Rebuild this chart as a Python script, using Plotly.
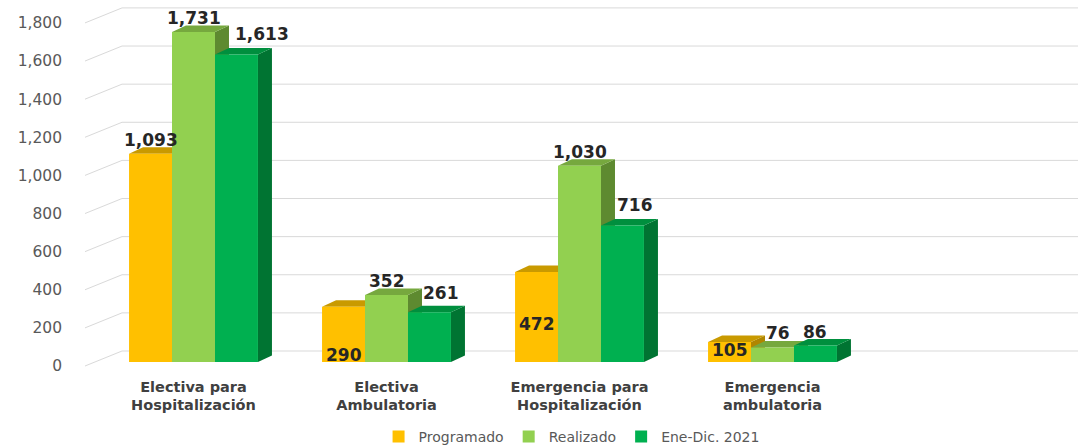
import plotly.graph_objects as go

categories = ["Electiva para<br>Hospitalización", "Electiva<br>Ambulatoria",
              "Emergencia para<br>Hospitalización", "Emergencia<br>ambulatoria"]
series_names = ["Programado", "Realizado", "Ene-Dic. 2021"]
programado = [1093, 290, 472, 105]
realizado = [1731, 352, 1030, 76]
ene_dic_2021 = [1613, 261, 716, 86]
y_ticks = [0, 200, 400, 600, 800, 1000, 1200, 1400, 1600, 1800]

front_colors = ["#FFC000", "#92D050", "#00B050"]
top_colors = ["#C99A00", "#76A83E", "#008F3E"]
side_colors = ["#B08600", "#5E8A30", "#007432"]

# label placement: (xshift px, yshift px, anchor) relative to bar top ('top') or base ('base')
label_pos = [
    [(0, 14, "top"), (0, 14, "top"), (26, 21, "top")],
    [(0, 7, "base"), (0, 14, "top"), (12, 19, "top")],
    [(0, -52, "top"), (0, 14, "top"), (13, 21, "top")],
    [(0, -8, "top"), (5, 15, "top"), (0, 14, "top")],
]

# ---- layout geometry ----
W, H = 1078, 448
L, R, T, B = 85, 0, 5, 78
plot_w = W - L - R
plot_h = H - T - B
px_per_unit = 0.1906
bar_base_px = 362            # pixel row of bar base
bottom_px = H - B
y_lo = -(bottom_px - bar_base_px) / px_per_unit
y_hi = (bar_base_px - T) / px_per_unit
px_per_cat = 193.0
x_lo = -(193.5 - L) / px_per_cat
x_hi = x_lo + plot_w / px_per_cat

bargap = 0.332
bw = (1 - bargap) / 3
dx = 14 / px_per_cat          # depth offset in x
dy = 6.5 / px_per_unit        # depth offset in y

series = [programado, realizado, ene_dic_2021]
fig = go.Figure()
for j, (name, vals) in enumerate(zip(series_names, series)):
    fig.add_trace(go.Bar(
        x=list(range(len(categories))), y=vals, name=name,
        marker=dict(color=front_colors[j], line=dict(width=0)),
        hoverinfo="y+name",
    ))

shapes = []
# gridlines (back wall) with diagonal floor segment
wall_x = (122 - L) / plot_w
grid_off = 11 / px_per_unit
lab_off = 4 / px_per_unit
for v in y_ticks:
    shapes.append(dict(type="line", xref="paper", yref="y", x0=wall_x, x1=1,
                       y0=v + grid_off, y1=v + grid_off, layer="below",
                       line=dict(color="#D9D9D9", width=1)))
    shapes.append(dict(type="line", xref="paper", yref="y", x0=0, x1=wall_x,
                       y0=v - lab_off, y1=v + grid_off, layer="below",
                       line=dict(color="#D9D9D9", width=1)))

annotations = []
for i in range(len(categories)):
    for j in range(3):
        v = series[j][i]
        xc = i + (j - 1) * bw
        xl, xr = xc - bw / 2, xc + bw / 2
        # side face
        shapes.append(dict(type="path", xref="x", yref="y", layer="below",
                           path=f"M{xr},0 L{xr},{v} L{xr+dx},{v+dy} L{xr+dx},{dy} Z",
                           fillcolor=side_colors[j], line=dict(width=0)))
        # top face
        shapes.append(dict(type="path", xref="x", yref="y", layer="below",
                           path=f"M{xl},{v} L{xr},{v} L{xr+dx},{v+dy} L{xl+dx},{v+dy} Z",
                           fillcolor=top_colors[j], line=dict(width=0)))
        sx, sy, ref = label_pos[i][j]
        annotations.append(dict(x=xc, y=(v if ref == "top" else 0), xref="x", yref="y",
                                text=f"{v:,}", showarrow=False, yanchor="middle",
                                yshift=sy, xshift=sx,
                                font=dict(family="DejaVu Sans", size=17,
                                          color="#262626", weight="bold")))

legend_center_px = 437
fig.update_layout(
    width=W, height=H,
    margin=dict(l=L, r=R, t=T, b=B, autoexpand=False),
    paper_bgcolor="white", plot_bgcolor="white",
    barmode="group", bargap=bargap, bargroupgap=0,
    showlegend=True,
    legend=dict(orientation="h", x=0.49, xanchor="center",
                y=-(legend_center_px - bottom_px) / plot_h, yanchor="middle",
                font=dict(family="DejaVu Sans", size=14, color="#595959"),
                itemwidth=30, traceorder="normal"),
    xaxis=dict(range=[x_lo, x_hi], tickvals=list(range(len(categories))),
               ticktext=categories, showgrid=False, zeroline=False,
               showline=False, ticks="", automargin=False, ticklabelstandoff=6,
               tickfont=dict(family="DejaVu Sans", size=14.5, color="#404040",
                             weight="bold")),
    yaxis=dict(range=[y_lo, y_hi], tickvals=y_ticks,
               ticktext=[f"{v:,}" for v in y_ticks], showgrid=False,
               zeroline=False, showline=False, ticks="", automargin=False,
               ticklabelstandoff=22, ticklabelshift=4,
               tickfont=dict(family="DejaVu Sans", size=15.5, color="#595959")),
    shapes=shapes, annotations=annotations,
)

fig.write_html("out.html", config={"displayModeBar": False},
               post_script="document.body.style.margin='0';")
